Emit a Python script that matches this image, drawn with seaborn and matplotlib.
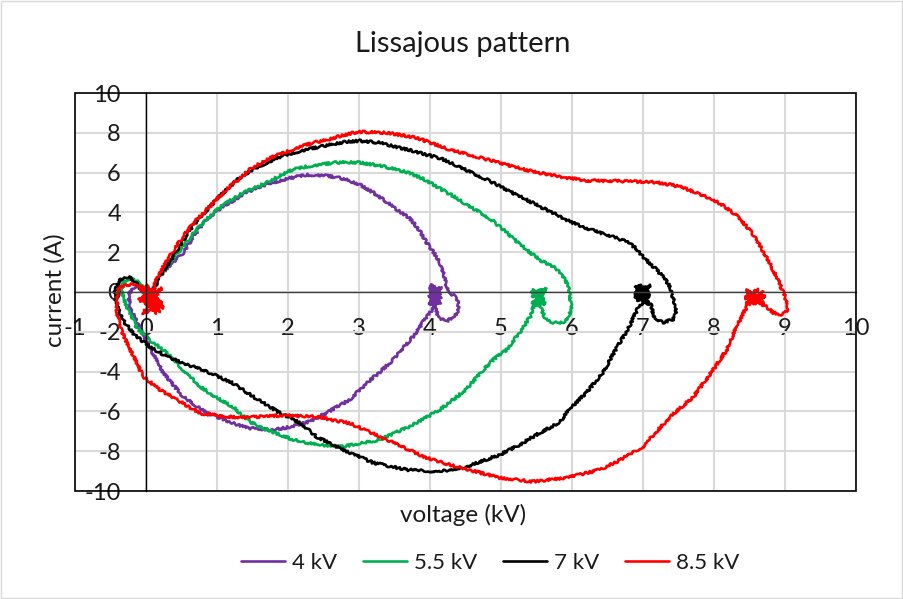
import numpy as np
import pandas as pd
import matplotlib
matplotlib.use("Agg")
import matplotlib.pyplot as plt
import seaborn as sns
from matplotlib.patches import Rectangle

# Voltage (kV) / current (A) traces, one closed loop per supply voltage
v_4kv = [0.05, 0.12, 0.22, 0.35, 0.52, 0.68, 0.85, 1.0, 1.18, 1.36, 1.56, 1.75, 1.93, 2.1,
         2.26, 2.4, 2.55, 2.7, 2.83, 3.01, 3.2, 3.4, 3.55, 3.71, 3.85, 3.95, 4.05, 4.14, 4.2,
         4.23, 4.3, 4.38, 4.4, 4.38, 4.25, 4.12, 4.08,
         4.0, 4.14, 3.98, 4.16, 4.0, 4.15, 4.02, 4.13, 3.99, 4.14, 4.01, 4.16, 3.99, 4.12,
         4.03, 4.14, 4.0, 4.1,
         3.95, 3.85, 3.76, 3.62, 3.48, 3.3, 3.1, 2.87, 2.55, 2.31, 2.03, 1.79, 1.42, 1.22,
         0.85, 0.52, 0.24, 0.05, -0.13, -0.22, -0.25, -0.15, -0.02, 0.05]
i_4kv = [-0.4, 0.3, 0.9, 1.4, 1.96, 2.85, 3.63, 4.1, 4.47, 4.9, 5.24, 5.47, 5.64, 5.78,
         5.89, 5.88, 5.84, 5.75, 5.64, 5.39, 5.0, 4.5, 4.1, 3.72, 3.1, 2.5, 2.0, 1.47, 0.8,
         0.3, -0.1, -0.3, -0.7, -1.1, -1.45, -1.3, -0.9,
         0.3, -0.6, -0.2, 0.25, -0.5, -0.1, 0.15, -0.45, -0.65, 0.05, 0.35, -0.3, 0.1, -0.55,
         -0.35, 0.2, -0.05, -0.6,
         -1.24, -1.8, -2.25, -2.8, -3.4, -4.0, -4.6, -5.41, -6.06, -6.5, -6.78, -6.93, -6.83,
         -6.58, -6.07, -5.25, -4.05, -2.75, -1.5, -0.8, -0.1, 0.25, 0.1, -0.4]

v_55kv = [0.05, 0.15, 0.3, 0.52, 0.72, 0.94, 1.12, 1.32, 1.5, 1.7, 1.88, 2.07, 2.25, 2.45,
          2.65, 2.83, 3.01, 3.3, 3.71, 3.95, 4.14, 4.33, 4.51, 4.7, 4.84, 4.98, 5.17, 5.36,
          5.55, 5.73, 5.85, 5.9, 5.94, 5.97, 5.99, 5.95, 5.9, 5.8, 5.73, 5.62, 5.59,
          5.46, 5.62, 5.44, 5.63, 5.46, 5.6, 5.43, 5.62, 5.48, 5.63, 5.45, 5.58, 5.44, 5.6, 5.5,
          5.41, 5.26, 5.08, 4.89, 4.7, 4.51, 4.14, 3.9, 3.67, 3.29, 2.77, 2.4,
          2.07, 1.7, 1.46, 1.22, 0.99, 0.76, 0.52, 0.29, 0.05, -0.13, -0.25, -0.33, -0.33,
          -0.2, -0.05, 0.05]
i_55kv = [-0.3, 0.5, 1.3, 2.28, 3.15, 3.97, 4.45, 4.89, 5.2, 5.49, 5.85, 6.15, 6.3, 6.4,
          6.5, 6.53, 6.5, 6.35, 5.99, 5.6, 5.2, 4.82, 4.4, 4.0, 3.7, 3.28, 2.7, 2.13,
          1.6, 1.28, 0.95, 0.62, 0.3, 0.0, -0.87, -1.3, -1.49, -1.55, -1.54, -1.3, -1.05,
          0.15, -0.6, -0.2, 0.1, -0.5, -0.3, 0.05, -0.55, -0.65, 0.2, -0.1, -0.4, -0.6, -0.05, -0.3,
          -1.24, -2.05, -2.9, -3.4, -4.1, -4.9, -5.91, -6.4, -6.82, -7.42, -7.77, -7.67,
          -7.42, -6.92, -6.52, -5.76, -5.3, -4.75, -3.9, -3.05, -2.4, -1.8, -0.9,
          -0.2, 0.55, 0.65, 0.4, -0.3]

v_7kv = [0.05, 0.2, 0.4, 0.62, 0.8, 0.99, 1.15, 1.32, 1.5, 1.7, 1.88, 2.07, 2.25, 2.45, 2.65,
         2.83, 3.01, 3.3, 3.57, 3.8, 3.95, 4.14, 4.35, 4.6, 4.8, 5.08, 5.3, 5.55, 5.8, 6.01,
         6.25, 6.49, 6.77, 6.9, 7.0, 7.19, 7.3, 7.38, 7.42, 7.47, 7.45, 7.42, 7.28, 7.14, 7.12,
         6.9, 7.08, 6.88, 7.1, 6.92, 7.06, 6.89, 7.09, 6.94, 7.07, 6.9, 7.05, 6.95, 7.1, 6.92,
         6.81, 6.67, 6.55, 6.43, 6.2, 5.96, 5.82,
         5.55, 5.25, 4.98, 4.51, 4.14, 3.67, 3.2, 2.77, 2.4, 2.17, 1.88, 1.51, 1.22, 0.9, 0.52,
         0.29, 0.05, -0.19, -0.33, -0.42, -0.44, -0.37, -0.25, -0.13, -0.04, 0.05]
i_7kv = [-0.3, 0.8, 1.9, 3.13, 3.9, 4.64, 5.2, 5.74, 6.15, 6.5, 6.78, 6.99, 7.15, 7.3, 7.45,
         7.55, 7.6, 7.5, 7.25, 7.05, 6.9, 6.73, 6.4, 5.97, 5.65, 5.13, 4.75, 4.29, 3.85, 3.47,
         3.15, 2.88, 2.53, 2.2, 1.77, 1.12, 0.7, 0.27, -0.24, -0.87, -1.2, -1.38, -1.54, -1.24,
         -0.7, 0.3, -0.6, -0.1, 0.35, -0.45, 0.1, -0.3, -0.6, 0.25, -0.2, 0.05, -0.55, 0.35,
         -0.1, -0.87, -1.72, -2.56, -3.3, -4.08, -5.06, -5.9, -6.57,
         -7.07, -7.7, -8.18, -8.78, -9.03, -8.93, -8.58, -7.92, -7.27, -6.57, -6.07,
         -5.26, -4.57, -4.06, -3.56, -3.25, -2.75, -2.05, -1.39, -0.6, 0.0, 0.62, 0.77, 0.47,
         0.0, -0.3]

v_85kv = [0.05, 0.12, 0.24, 0.38, 0.52, 0.68, 0.85, 1.0, 1.13, 1.3, 1.46, 1.62, 1.79, 1.98,
          2.17, 2.35, 2.55, 2.75, 2.92, 3.01, 3.4, 3.81, 4.05, 4.28, 4.6, 4.98, 5.45, 5.92, 6.2,
          6.6, 6.95, 7.1, 7.3, 7.52, 7.75, 7.99, 8.15, 8.27, 8.36, 8.55, 8.7, 8.82, 8.9, 9.0,
          9.04, 8.97, 8.83, 8.74, 8.64,
          8.7, 8.45, 8.68, 8.5, 8.72, 8.44, 8.62, 8.48, 8.7, 8.52, 8.66, 8.45, 8.6, 8.5,
          8.46, 8.32, 8.18, 7.99,
          7.71, 7.38, 7.0, 6.63, 6.39, 6.2, 5.92, 5.45, 4.98, 4.42, 3.95, 3.39, 2.87, 2.4, 1.93,
          1.32, 0.76, 0.43, 0.19, -0.04, -0.13, -0.27, -0.37, -0.41, -0.4, -0.3, -0.13,
          0.0, 0.2, -0.08, 0.24, -0.05, 0.22, -0.1, 0.18, 0.0, 0.25, -0.06, 0.15, 0.02, 0.23,
          -0.04, 0.12, 0.05]
i_85kv = [-0.5, 0.4, 1.27, 2.05, 2.78, 3.5, 4.13, 4.65, 5.14, 5.65, 6.15, 6.5, 6.8, 7.05,
          7.3, 7.5, 7.65, 7.85, 8.0, 8.05, 8.0, 7.75, 7.45, 7.15, 6.85, 6.49, 6.05, 5.74, 5.6,
          5.58, 5.54, 5.54, 5.45, 5.29, 5.0, 4.64, 4.3, 3.97, 3.72, 2.9, 2.0, 1.2, 0.62, -0.24,
          -0.87, -1.14, -1.04, -0.74, -0.39,
          -0.7, 0.1, -0.5, -0.6, -0.2, -0.3, 0.15, -0.55, 0.0, -0.45, -0.15, -0.6, -0.35, 0.05,
          -0.74, -1.72, -2.9, -3.9,
          -5.26, -6.27, -7.77, -8.53, -8.93, -9.1, -9.33, -9.53, -9.33, -8.83, -8.33,
          -7.42, -6.6, -6.27, -6.2, -6.32, -6.1, -5.41, -4.9, -4.25, -3.56, -2.56, -1.72, -0.9,
          0.1, 0.37, 0.37,
          -0.1, -1.0, 0.3, -0.7, -1.1, 0.2, -0.4, -0.9, 0.35, -0.8, -0.3, -1.05, 0.1, -0.6,
          -0.2, -0.95, -0.5]

series_labels = ["4 kV", "5.5 kV", "7 kV", "8.5 kV"]
series_colors = ["#7030A0", "#00B050", "#000000", "#FF0000"]
x_ticks = list(range(-1, 11))
y_ticks = list(range(-10, 11, 2))

frames = []
for label, v, i in zip(series_labels,
                       [v_4kv, v_55kv, v_7kv, v_85kv],
                       [i_4kv, i_55kv, i_7kv, i_85kv]):
    frames.append(pd.DataFrame({"voltage": v, "current": i, "series": label}))
df = pd.concat(frames, ignore_index=True)

sns.set_theme(style="white")
plt.rcParams["font.family"] = ["Lato", "DejaVu Sans"]
plt.rcParams["axes.unicode_minus"] = False
text_color = "#1a1a1a"

fig = plt.figure(figsize=(9.04, 5.99), dpi=100)
W, H = 904, 599
ax = fig.add_axes([75 / W, 1 - 491 / H, (856 - 75) / W, (491 - 93) / H])

sns.lineplot(data=df, x="voltage", y="current", hue="series",
             hue_order=series_labels, palette=series_colors,
             sort=False, estimator=None, linewidth=1.9, ax=ax)

# noisy oscilloscope look on the traces
for line in ax.lines:
    line.set_sketch_params(scale=1.2, length=3.5, randomness=6)

ax.set_xlim(-1, 10)
ax.set_ylim(-10, 10)
ax.set_xticks(x_ticks)
ax.set_yticks(y_ticks)
ax.grid(True, color="#D9D9D9", linewidth=1.5)
ax.set_axisbelow(True)

# axes cross at the origin, labels sit next to them
ax.spines["left"].set_position(("data", 0))
ax.spines["bottom"].set_position(("data", 0))
ax.spines["left"].set_color("#000000")
ax.spines["bottom"].set_color("#404040")
ax.spines["left"].set_linewidth(1.0)
ax.spines["bottom"].set_linewidth(1.0)
ax.spines["top"].set_visible(False)
ax.spines["right"].set_visible(False)
ax.add_patch(Rectangle((0, 0), 1, 1, transform=ax.transAxes, fill=False,
                       edgecolor="#000000", linewidth=1.2, clip_on=False, zorder=3))

ax.tick_params(axis="x", length=0, pad=19, labelsize=17, labelcolor=text_color)
ax.tick_params(axis="y", length=0, pad=18, labelsize=17, labelcolor=text_color)
ax.set_xlabel("")
ax.set_ylabel("")

fig.text(463 / W, 1 - 44 / H, "Lissajous pattern", ha="center", va="center",
         fontsize=21, color=text_color)
fig.text(463 / W, 1 - 515 / H, "voltage (kV)", ha="center", va="center",
         fontsize=17.5, color=text_color)
fig.text(55 / W, 1 - 290 / H, "current (A)", ha="center", va="center",
         rotation=90, fontsize=17.5, color=text_color)

sns.move_legend(ax, "center", bbox_to_anchor=(490 / W, 1 - 563 / H),
                bbox_transform=fig.transFigure, ncol=4, frameon=False, title=None,
                fontsize=16, handlelength=2.0, handletextpad=0.3, columnspacing=1.15)
for txt in ax.get_legend().get_texts():
    txt.set_color(text_color)

fig.patches.append(Rectangle((0.001, 0.002), 0.997, 0.996, transform=fig.transFigure,
                             fill=False, edgecolor="#D9D9D9", linewidth=1.0))

fig.savefig("out.png", dpi=100)
